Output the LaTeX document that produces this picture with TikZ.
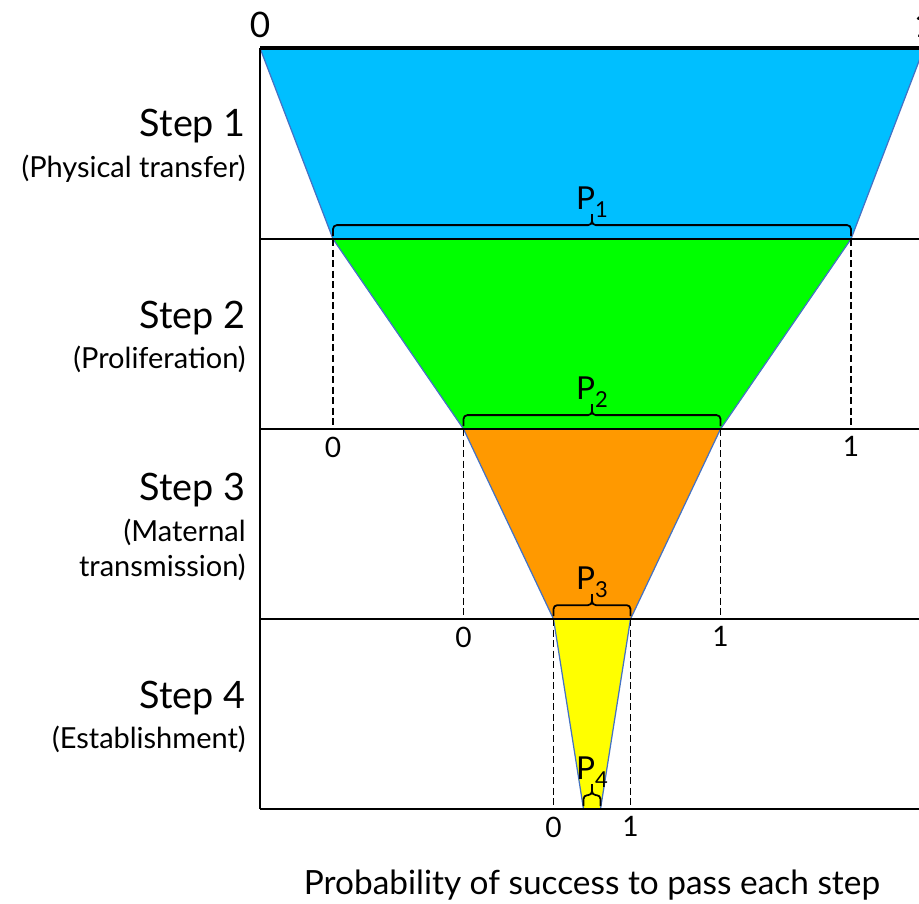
\documentclass[tikz,border=0pt]{standalone}
\usepackage{fontspec}
\setmainfont{Lato}
\definecolor{stepblue}{RGB}{0,191,255}
\definecolor{stepgreen}{RGB}{0,255,0}
\definecolor{steporange}{RGB}{255,153,0}
\definecolor{stepyellow}{RGB}{255,255,0}
\definecolor{edgeblue}{RGB}{68,114,196}
\newcommand{\psub}[1]{P\raisebox{-.45ex}{\fontsize{12.5}{12.5}\selectfont #1}}
\begin{document}
\begin{tikzpicture}[x=0.02cm,y=-0.02cm,
  level/.style={line width=1.1pt},
  guide/.style={line width=0.8pt,dash pattern=on 4pt off 2pt},
  funnel/.style={draw=edgeblue,line width=0.7pt},
  pbrace/.style={line width=1pt,rounded corners=2.2pt},
  plab/.style={anchor=base,inner sep=0pt,font=\fontsize{18}{18}\selectfont},
  axlab/.style={anchor=north,inner sep=1pt,font=\fontsize{16}{16}\selectfont},
  steplab/.style={anchor=east,align=right,inner sep=0pt,font=\fontsize{16.5}{20}\selectfont}]
\clip (0,0) rectangle (919,903);
% corners of the funnel and of the levels
\foreach \i/\y/\h in {0/48/332,1/239/259,2/429/128.5,3/619/38.5,4/809/8.5}{
  \coordinate (L\i) at (592-\h,\y); \coordinate (R\i) at (592+\h,\y);
  \coordinate (M\i) at (592,\y);
  \coordinate (A\i) at (260,\y); \coordinate (B\i) at (940,\y);}
\foreach \i/\j/\c in {0/1/stepblue,1/2/stepgreen,2/3/steporange,3/4/stepyellow}{
  \fill[\c] (L\i) -- (R\i) -- (R\j) -- (L\j) -- cycle;
  \draw[funnel] (L\i) -- (L\j) (R\i) -- (R\j);}
% dashed guides with their 0 and 1
\foreach \i/\j in {1/2,2/3,3/4}{
  \draw[guide] (L\i) -- (L\i |- A\j) node[axlab,below=3pt] (zero\i) {0};
  \draw[guide] (R\i) -- (R\i |- A\j) node[axlab,below=3pt] (one\i) {1};}
% levels
\draw[line width=1.8pt] (A0) -- (B0);
\foreach \i in {1,...,4} \draw[level] (A\i) -- (B\i);
\draw[level] (A0) -- (A4);
\node[anchor=south,inner sep=5.5pt,font=\fontsize{20}{20}\selectfont] (top0) at (L0) {0};
\node[anchor=south,inner sep=5.5pt,font=\fontsize{20}{20}\selectfont] (top1) at (R0) {1};
% braces
\foreach \i in {1,...,4}{
  \draw[pbrace] ([yshift=1.7pt]L\i) |- ([yshift=7.9pt]M\i) -- ([yshift=14.2pt]M\i);
  \draw[pbrace] ([yshift=1.7pt]R\i) |- ([yshift=7.9pt]M\i) -- ([yshift=14.2pt]M\i);
  \node[plab] (p\i) at ([yshift=16.6pt]M\i) {\psub{\i}};}
% steps
\node[steplab] (s1) at (246,146) {{\fontsize{21.5}{21.5}\selectfont Step 1}\\[3pt](Physical transfer)};
\node[steplab] (s2) at (246,337) {{\fontsize{21.5}{21.5}\selectfont Step 2}\\[3pt](Proliferation)};
\node[steplab] (s3) at (246,527) {{\fontsize{21.5}{21.5}\selectfont Step 3}\\[3pt](Maternal\\transmission)};
\node[steplab] (s4) at (246,717) {{\fontsize{21.5}{21.5}\selectfont Step 4}\\[3pt](Establishment)};
\node[font=\fontsize{19}{19}\selectfont] (xlab) at (592,885) {Probability of success to pass each step};
\end{tikzpicture}
\end{document}
